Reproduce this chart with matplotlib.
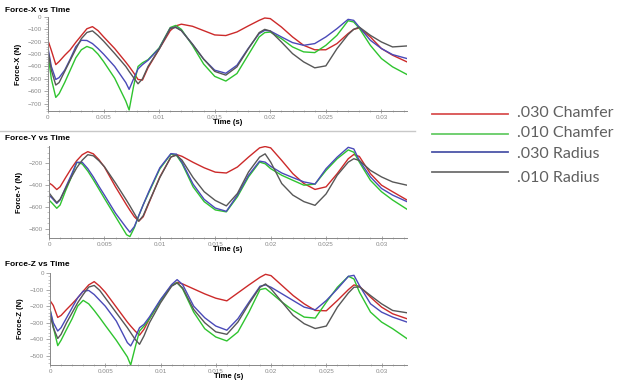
import matplotlib
matplotlib.use("Agg")
import matplotlib.pyplot as plt
from matplotlib.lines import Line2D
from matplotlib.ticker import MultipleLocator, FuncFormatter
import numpy as np

# time grid in ms (N)
t_ms = [0, 0.3, 0.7, 1, 1.5, 2, 2.5, 3, 3.5, 4, 4.5, 5, 6, 7, 7.3, 7.7, 8.1, 8.5, 9, 10,
        11, 11.5, 12, 13, 14, 15, 16, 17, 18, 19, 19.5, 20, 21, 22, 23, 24, 25, 26, 27,
        27.5, 28, 29, 30, 31, 32.3]

labels = [".030 Chamfer", ".010 Chamfer", ".030 Radius", ".010 Radius"]

# Force-X
fx_red = [-190, -270, -385, -360, -310, -265, -205, -150, -95, -78, -110, -160, -255, -365, -400,
          -450, -505, -510, -410, -260, -110, -72, -58, -75, -110, -145, -150, -121, -73, -27, -8,
          -13, -81, -161, -229, -265, -265, -215, -134, -100, -89, -161, -255, -309, -363]
fx_green = [-300, -500, -650, -620, -530, -430, -330, -265, -238, -255, -300, -360, -495, -680,
            -752, -560, -400, -370, -345, -250, -85, -68, -100, -230, -380, -480, -518, -457,
            -309, -161, -126, -122, -175, -242, -282, -288, -229, -148, -30, -40, -90, -229,
            -336, -403, -465]
fx_blue = [-250, -400, -505, -490, -430, -340, -240, -188, -190, -215, -255, -300, -400, -530,
           -585, -500, -420, -385, -350, -255, -90, -82, -110, -220, -340, -430, -455, -390,
           -256, -134, -108, -113, -161, -207, -229, -215, -161, -94, -19, -27, -81, -188,
           -255, -304, -336]
fx_gray = [-270, -430, -550, -530, -440, -350, -260, -175, -125, -112, -150, -195, -295, -400,
           -440, -490, -540, -500, -400, -260, -92, -85, -110, -220, -340, -440, -470, -403,
           -261, -126, -100, -113, -202, -296, -363, -411, -395, -256, -142, -100, -81, -148,
           -202, -242, -234]

# Force-Y
fy_red = [-379, -400, -440, -415, -330, -248, -175, -120, -92, -112, -165, -233, -415, -582,
          -630, -690, -730, -690, -567, -324, -142, -118, -135, -190, -240, -280, -288, -233,
          -142, -57, -45, -57, -173, -294, -385, -439, -415, -294, -157, -118, -136, -294,
          -400, -460, -536]
fy_green = [-536, -567, -612, -582, -450, -330, -190, -205, -270, -350, -435, -521, -688, -855,
            -872, -790, -680, -580, -470, -250, -115, -125, -200, -415, -551, -627, -645, -506,
            -324, -188, -203, -248, -309, -355, -400, -390, -264, -157, -76, -97, -188, -355,
            -460, -536, -621]
fy_blue = [-491, -521, -567, -536, -420, -309, -190, -190, -248, -324, -410, -491, -657, -794,
           -832, -780, -680, -580, -460, -240, -110, -115, -190, -390, -530, -610, -640, -491,
           -309, -179, -188, -227, -288, -330, -370, -390, -248, -142, -52, -67, -173, -324,
           -430, -491, -551]
fy_gray = [-470, -510, -560, -530, -430, -330, -240, -170, -120, -130, -175, -230, -380, -540,
           -590, -660, -730, -680, -560, -330, -140, -125, -170, -330, -460, -540, -590, -476,
           -279, -142, -112, -188, -385, -491, -551, -585, -480, -309, -188, -157, -173, -264,
           -324, -370, -400]

# Force-Z
fz_red = [-166, -196, -268, -256, -220, -186, -150, -110, -72, -52, -80, -116, -206, -296, -320,
          -350, -375, -340, -276, -166, -76, -56, -66, -96, -126, -152, -168, -120, -72, -26,
          -8, -16, -76, -136, -186, -226, -228, -166, -100, -72, -80, -146, -206, -246, -276]
fz_green = [-216, -326, -438, -406, -340, -276, -200, -165, -186, -226, -270, -316, -406, -506,
            -555, -450, -350, -320, -276, -166, -76, -58, -96, -236, -336, -386, -410, -356,
            -236, -100, -93, -120, -176, -226, -266, -272, -176, -86, -20, -36, -116, -236,
            -296, -336, -396]
fz_blue = [-220, -300, -350, -330, -270, -210, -150, -110, -105, -130, -165, -200, -290, -420,
           -440, -390, -330, -310, -265, -160, -70, -40, -70, -200, -270, -320, -345, -276,
           -176, -80, -72, -86, -126, -166, -206, -222, -166, -96, -20, -14, -76, -186, -236,
           -266, -296]
fz_gray = [-250, -330, -395, -370, -300, -240, -180, -130, -85, -75, -105, -150, -240, -330,
           -360, -400, -430, -380, -300, -180, -80, -60, -90, -220, -300, -355, -370, -296,
           -186, -86, -66, -96, -176, -256, -306, -335, -320, -206, -120, -86, -84, -136, -186,
           -226, -240]

colors = ["#cc2a2a", "#2fc42f", "#4a4ab8", "#575757"]
legend_colors = ["#d95050", "#66cc66", "#4c55a8", "#6e6e6e"]

t = np.array(t_ms) / 1000.0

panels = [
    ("Force-X vs Time", "Force-X (N)", [fx_red, fx_green, fx_blue, fx_gray], (-760, 0), 100, 20),
    ("Force-Y vs Time", "Force-Y (N)", [fy_red, fy_green, fy_blue, fy_gray], (-885, -40), 200, 50),
    ("Force-Z vs Time", "Force-Z (N)", [fz_red, fz_green, fz_blue, fz_gray], (-555, 0), 100, 20),
]

# axes boxes in pixels: left, top, right, bottom
boxes = [(48, 17, 407, 111), (49, 146, 407, 238), (50, 273, 407, 365)]
title_y = [10, 138, 265]

W, H = 624, 384
fig = plt.figure(figsize=(6.24, 3.84), dpi=100)
plt.rcParams['font.family'] = ['Liberation Sans', 'DejaVu Sans']

fmt = FuncFormatter(lambda v, p: "0" if abs(v) < 1e-12 else "%g" % v)

for (title, ylab, series, ylim, major, minor), (l, tp, r, b), ty in zip(panels, boxes, title_y):
    ax = fig.add_axes([l / W, 1 - b / H, (r - l) / W, (b - tp) / H])
    for vals, c in zip(series, colors):
        ax.plot(t, vals, color=c, lw=1.0)
    ax.set_xlim(0, 0.0323)
    ax.set_ylim(*ylim)
    ax.xaxis.set_major_locator(MultipleLocator(0.005))
    ax.xaxis.set_minor_locator(MultipleLocator(0.001))
    ax.yaxis.set_major_locator(MultipleLocator(major))
    ax.yaxis.set_minor_locator(MultipleLocator(minor))
    ax.xaxis.set_major_formatter(fmt)
    for s in ["top", "right"]:
        ax.spines[s].set_visible(False)
    for s in ["left", "bottom"]:
        ax.spines[s].set_color("#888888")
        ax.spines[s].set_linewidth(0.7)
    ax.tick_params(which="major", length=3, width=0.5, color="#888888",
                   labelsize=4.5, labelcolor="#888888", pad=1.5)
    ax.tick_params(axis="x", which="both", direction="inout")
    ax.tick_params(which="minor", length=1.5, width=0.4, color="#999999")
    ax.set_xlabel("Time (s)", fontsize=5.5, fontweight="bold", labelpad=-1)
    ax.set_ylabel(ylab, fontsize=5.5, fontweight="bold", labelpad=4)
    ax.patch.set_alpha(0)
    fig.text(5 / W, 1 - ty / H, title, fontsize=6, fontweight="bold", va="center", ha="left")

# separator between first and second panel
fig.add_artist(Line2D([0, 415 / W], [1 - 131 / H] * 2, color="#c8c8c8", lw=1.0))

# legend
line_y = [114, 134, 152, 172]
text_y = [113, 133, 154, 178]
for lab, c, ly, ty in zip(labels, legend_colors, line_y, text_y):
    fig.add_artist(Line2D([432 / W, 508 / W], [1 - ly / H] * 2, color=c, lw=1.3))
    fig.text(517 / W, 1 - ty / H, lab, fontsize=11.5, color="#606060", va="center",
             ha="left", family="Lato")

fig.savefig("out.png", dpi=100)
